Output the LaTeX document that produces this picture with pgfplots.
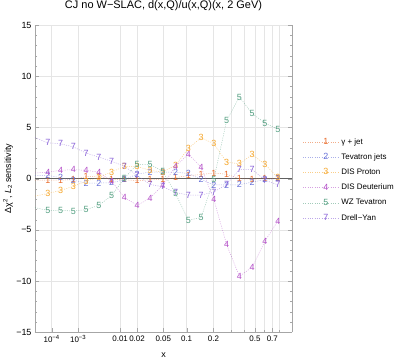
\documentclass[border=0pt]{standalone}
\usepackage{pgfplots}
\pgfplotsset{compat=1.18}
\usepackage{pgfplotstable}
\usepackage{fontspec}
\setmainfont{Liberation Sans}

\definecolor{c1}{RGB}{232,105,40}
\definecolor{c2}{RGB}{100,110,215}
\definecolor{c3}{RGB}{245,165,40}
\definecolor{c4}{RGB}{180,80,200}
\definecolor{c5}{RGB}{85,160,130}
\definecolor{c7}{RGB}{135,95,215}
\definecolor{gridc}{gray}{0.9}

% x values on the original grid, plotted on an x^(1/5) scale
\pgfplotstableread{
x         s1     s2     s3     s4     s5     s7
1.0e-5    -0.15  0.32   -1.70  0.55   -2.83  4.00
6.352e-5  -0.15  0.32   -1.45  0.64   -3.10  3.50
2.442e-4  -0.15  0.10   -1.15  0.81   -3.10  3.40
7.048e-4  -0.10  -0.15  -0.75  0.88   -3.16  3.10
1.689e-3  0.20   -0.43  -0.25  0.81   -3.03  2.50
3.553e-3  0.25   -0.43  0.15   0.64   -2.60  2.10
6.788e-3  -0.10  -0.40  0.65   -0.25  -1.65  1.70
0.012039  -0.10  -0.10  1.20   -1.85  0.05   1.20
0.020129  -0.20  0.45   1.20   -2.60  1.40   0.30
0.032082  -0.10  0.64   0.80   -1.90  1.40   -0.56
0.049136  -0.10  0.64   0.65   -0.65  0.70   -0.80
0.072777  0.10   0.64   1.30   1.20   -1.46  -1.35
0.104751  0.30   0.50   2.95   2.40   -4.05  -1.60
0.147089  0.40   -0.07  4.00   1.13   -3.80  -1.60
0.202126  0.55   -0.62  3.40   -2.05  -0.05  -1.30
0.272535  0.42   -0.62  1.60   -6.45  5.69   -0.55
0.361320  0.00   -0.60  1.45   -9.54  7.97   0.90
0.471867  -0.05  -0.33  2.35   -8.63  6.35   0.90
0.607958  0.00   -0.10  1.40   -6.09  5.43   -0.15
0.773781  0.05   0.00   0.10   -4.14  4.81   -0.60
}\sens

\begin{document}
\begin{tikzpicture}
\useasboundingbox (-35bp,-28.7bp) rectangle (364bp,332.3bp);
\begin{axis}[
  at={(0,0)}, anchor=south west,
  scale only axis, width=257bp, height=307.3bp,
  xmin=0.1, xmax=1, ymin=-15, ymax=15,
  axis x line*=bottom, axis y line*=box,
  axis line style={-, gray!70},
  x axis line style={-}, y axis line style={-},
  tick align=inside, tick style={gray!70},
  major tick length=4bp, minor tick length=2.2bp,
  xtick={0.158489,0.251189,0.398107,0.457305,0.549280,0.630957,0.724780,0.870551,0.931149},
  xticklabels={10\textsuperscript{−4},10\textsuperscript{−3},0.01,0.02,0.05,0.1,0.2,0.5,0.7},
  minor xtick={0.786003,0.832553,0.902880,0.956352},
  ytick={-15,-10,-5,0,5,10,15},
  yticklabels={−15,−10,−5,0,5,10,15},
  minor y tick num=4,
  xmajorgrids, xminorgrids, ymajorgrids,
  major grid style={gridc, line width=0.6bp},
  minor grid style={gridc, line width=0.6bp},
  yticklabel style={font=\fontsize{9}{10}\selectfont},
  xticklabel style={font=\fontsize{8}{9}\selectfont},
  title={CJ no W−SLAC, d(x,Q)/u(x,Q)(x, 2 GeV)},
  title style={at={(0.5,1)}, anchor=center, yshift=13bp, font=\fontsize{11}{12}\selectfont},
  xlabel={x},
  every axis x label/.style={at={(rel axis cs:0.5,0)}, anchor=center, yshift=-22.7bp, font=\fontsize{9}{10}\selectfont},
  ylabel={Δχ\textsuperscript{2}, \textit{L}\textsubscript{2} sensitivity},
  every axis y label/.style={at={(rel axis cs:0,0.5)}, rotate=90, anchor=center, yshift=27bp, font=\fontsize{9}{10}\selectfont},
  sens/.style={#1, line width=0.5bp, draw opacity=0.55, dash pattern=on 1bp off 1.3bp,
    mark=text, text mark as node=true, mark options={solid},
    text mark style={font=\fontsize{9}{9}\selectfont, text=#1}},
  legend image code/.code={\draw[mark repeat=2, mark phase=2, #1] plot coordinates {(0bp,0bp) (18bp,0bp) (36bp,0bp)};},
  legend cell align=left,
  legend style={at={(1.03,0.645)}, anchor=north west, draw=none, fill=none,
    font=\fontsize{8}{9}\selectfont, row sep=3.5bp},
]
\draw[gray!75!black, line width=0.9bp] (rel axis cs:0,0.5) -- (rel axis cs:1,0.5);
\addplot[sens=c1, text mark={1}] table[x expr=\thisrow{x}^0.2, y=s1]{\sens};
\addlegendentry{γ + jet}
\addplot[sens=c2, text mark={2}] table[x expr=\thisrow{x}^0.2, y=s2]{\sens};
\addlegendentry{Tevatron jets}
\addplot[sens=c3, text mark={3}] table[x expr=\thisrow{x}^0.2, y=s3]{\sens};
\addlegendentry{DIS Proton}
\addplot[sens=c4, text mark={4}] table[x expr=\thisrow{x}^0.2, y=s4]{\sens};
\addlegendentry{DIS Deuterium}
\addplot[sens=c5, text mark={5}] table[x expr=\thisrow{x}^0.2, y=s5]{\sens};
\addlegendentry{WZ Tevatron}
\addplot[sens=c7, text mark={7}] table[x expr=\thisrow{x}^0.2, y=s7]{\sens};
\addlegendentry{Drell−Yan}
\end{axis}
\end{tikzpicture}
\end{document}
